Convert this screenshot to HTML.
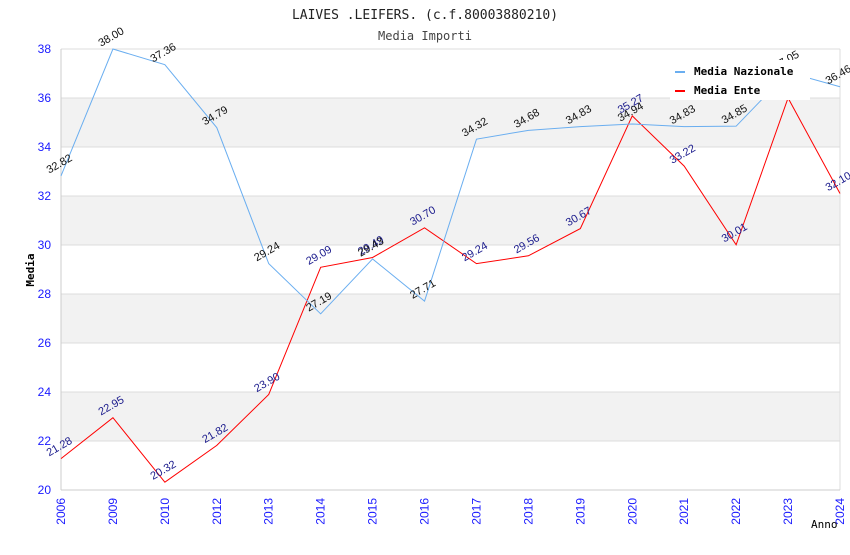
<!DOCTYPE html>
<html><head><meta charset="utf-8"><style>
body{margin:0;background:#fff;width:850px;height:550px;overflow:hidden}
.mono{font-family:"DejaVu Sans Mono","Liberation Mono",monospace}
.sans{font-family:"Liberation Sans","DejaVu Sans",sans-serif}
</style></head><body>
<svg id="c" width="850" height="550">
<text class="mono" x="425" y="19" text-anchor="middle" font-size="13" fill="#222">LAIVES .LEIFERS. (c.f.80003880210)</text>
<text class="mono" x="425" y="40" text-anchor="middle" font-size="12" fill="#444">Media Importi</text>
<g id="bands"></g><g id="grid"></g><g id="axes"></g><g id="lines"></g><g id="labels"></g>
<g>
<rect x="670" y="60" width="140" height="40" fill="#fff"/>
<rect x="675" y="71" width="10" height="2" fill="#6aaef0"/>
<text class="mono" x="694" y="75" font-size="11" font-weight="bold" fill="#000">Media Nazionale</text>
<rect x="675" y="90" width="10" height="2" fill="#ff0000"/>
<text class="mono" x="694" y="94" font-size="11" font-weight="bold" fill="#000">Media Ente</text>
</g>
<text class="mono" transform="translate(34,270) rotate(-90)" text-anchor="middle" font-size="11" font-weight="bold" fill="#000">Media</text>
<text class="mono" x="811" y="528" font-size="11" fill="#000">Anno</text>
</svg>
<script>
const categories=["2006","2009","2010","2012","2013","2014","2015","2016","2017","2018","2019","2020","2021","2022","2023","2024"];
const nazionale=[32.82,38.00,37.36,34.79,29.24,27.19,29.43,27.71,34.32,34.68,34.83,34.94,34.83,34.85,37.05,36.46];
const ente=[21.28,22.95,20.32,21.82,23.90,29.09,29.49,30.70,29.24,29.56,30.67,35.27,33.22,30.01,36.00,32.10];
const yTicks=[20,22,24,26,28,30,32,34,36,38];
const X0=61,X1=840,Y0=490,Y1=49,ymin=20,ymax=38;
const xs=i=>X0+i*(X1-X0)/(categories.length-1);
const ys=v=>Y0-(v-ymin)*(Y0-Y1)/(ymax-ymin);
const NS="http://www.w3.org/2000/svg";
function mk(tag,attrs,parent){const e=document.createElementNS(NS,tag);for(const k in attrs)e.setAttribute(k,attrs[k]);document.getElementById(parent).appendChild(e);return e;}
for(let i=0;i<yTicks.length-1;i++){if(i%2===1){const r=mk('rect',{x:X0,y:ys(yTicks[i+1]),width:X1-X0,height:ys(yTicks[i])-ys(yTicks[i+1]),fill:'#f2f2f2'},'bands');

}}
yTicks.forEach(t=>{const l=mk('line',{x1:X0,x2:X1,y1:ys(t),y2:ys(t),stroke:'#dcdcdc'},'grid');


const tx=mk('text',{class:'sans',x:X0-10,y:ys(t)+4,'text-anchor':'end','font-size':12,fill:'#1a1aff'},'axes');tx.textContent=t;

});
mk('line',{x1:X0,x2:X0,y1:Y1,y2:Y0,stroke:'#ccc'},'axes');
mk('line',{x1:X1,x2:X1,y1:Y1,y2:Y0,stroke:'#ddd'},'axes');
mk('line',{x1:X0,x2:X1,y1:Y0,y2:Y0,stroke:'#ccc'},'axes');
categories.forEach((c,i)=>{const t=mk('text',{class:'sans',transform:`translate(${xs(i)+4},${Y0+8}) rotate(-90)`,'text-anchor':'end','font-size':12,fill:'#1a1aff'},'axes');t.textContent=c;

});
function series(vals,color,lblColor,name){
 const p=mk('polyline',{points:vals.map((v,i)=>xs(i)+','+ys(v)).join(' '),fill:'none',stroke:color,'stroke-width':1},'lines');
 
 
 vals.forEach((v,i)=>{const t=mk('text',{class:'sans',transform:`translate(${xs(i)},${ys(v)-9}) rotate(-30)`,'text-anchor':'middle','font-size':11,fill:lblColor},'labels');t.textContent=v.toFixed(2);
 
 });
}
series(ente,'#ff0000','#1a1a8c','ente');
series(nazionale,'#6aaef0','#111','nazionale');
</script>
</body></html>
